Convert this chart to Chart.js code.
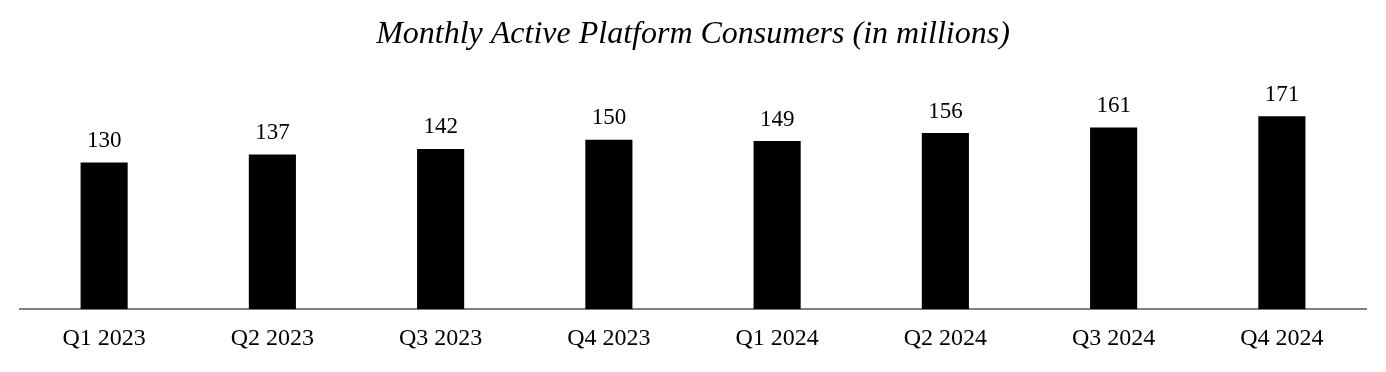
<!DOCTYPE html>
<html>
<head>
<meta charset="utf-8">
<script src="https://cdn.jsdelivr.net/npm/chart.js@4/dist/chart.umd.min.js"></script>
<style>
  html, body { margin: 0; padding: 0; background: #fff; }
  #wrap { width: 1386px; height: 372px; }
</style>
</head>
<body>
<div id="wrap"><canvas id="myBarChart"></canvas></div>
<script>
// dati del grafico
const quarters = ["Q1 2023", "Q2 2023", "Q3 2023", "Q4 2023", "Q1 2024", "Q2 2024", "Q3 2024", "Q4 2024"];
const consumers = [130, 137, 142, 150, 149, 156, 161, 171];

// etichette sopra le barre
const valueLabels = {
  id: "valueLabels",
  afterDatasetsDraw(chart) {
    const ctx = chart.ctx;
    const meta = chart.getDatasetMeta(0);
    ctx.save();
    ctx.font = "23px 'Liberation Serif'";
    ctx.fillStyle = "#000";
    ctx.textAlign = "center";
    ctx.textBaseline = "bottom";
    meta.data.forEach(function (bar, i) {
      ctx.fillText(consumers[i], bar.x, bar.y - 10);
    });
    ctx.restore();
  }
};

var ctx = document.getElementById("myBarChart").getContext("2d");
var myBarChart = new Chart(ctx, {
  type: "bar",
  data: {
    labels: quarters,
    datasets: [
      {
        data: consumers,
        backgroundColor: "#000",
        barPercentage: 0.28,
        categoryPercentage: 1
      }
    ]
  },
  options: {
    responsive: true,
    maintainAspectRatio: false,
    animation: false,
    layout: { padding: { left: 20, right: 20, top: 0, bottom: 4 } },
    plugins: {
      legend: { display: false },
      tooltip: { enabled: false },
      title: {
        display: true,
        text: "Monthly Active Platform Consumers (in millions)",
        color: "#000",
        font: { family: "'Liberation Serif'", size: 32, style: "italic", weight: "normal" },
        padding: { top: 15, bottom: 30 }
      }
    },
    scales: {
      x: {
        grid: { display: false, drawTicks: false },
        border: { display: true, color: "#808080", width: 2 },
        ticks: {
          color: "#000",
          padding: 15,
          font: { family: "'Liberation Serif'", size: 24 }
        }
      },
      y: {
        min: 0,
        max: 200,
        display: false
      }
    }
  },
  plugins: [valueLabels]
});
</script>
</body>
</html>
